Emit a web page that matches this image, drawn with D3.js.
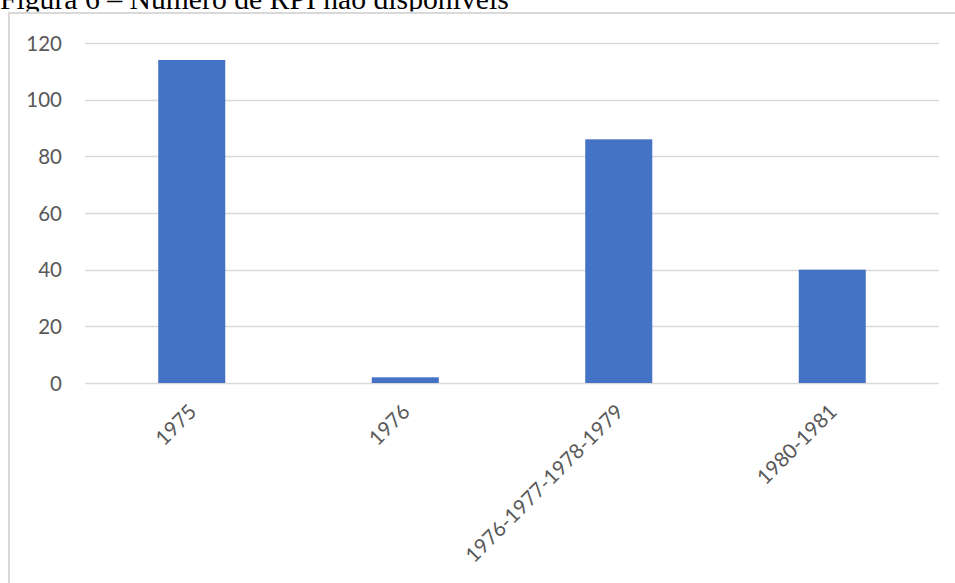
<!DOCTYPE html>
<html>
<head>
<meta charset="utf-8">
<script src="https://cdn.jsdelivr.net/npm/d3@7"></script>
<style>
  html, body { margin: 0; padding: 0; background: #fff; }
  svg { display: block; }
</style>
</head>
<body>
<svg id="chart" width="955" height="583"></svg>
<script>
// Número de RPI não disponíveis, por período
const categories = ["1975", "1976", "1976-1977-1978-1979", "1980-1981"];
const values = [114, 2, 86, 40];
const yTicks = [0, 20, 40, 60, 80, 100, 120];
const title = "Figura 6 – Número de RPI não disponíveis";

const svg = d3.select("#chart");
const W = 955, H = 583;
const margin = { left: 85, right: 16, top: 43, bottom: 200 };

// Caption above the frame; its lower part is hidden behind the chart frame
svg.append("defs").append("clipPath").attr("id", "capClip")
  .append("rect").attr("x", 0).attr("y", -40).attr("width", W).attr("height", 51.5);
svg.append("text")
  .attr("x", 0).attr("y", 8.5)
  .attr("clip-path", "url(#capClip)")
  .attr("font-family", "'Liberation Serif', 'Times New Roman', serif")
  .attr("font-size", 29.7)
  .attr("fill", "#000")
  .text(title);

// Frame of the chart area (top and left edges)
svg.append("line")
  .attr("x1", 9).attr("x2", W).attr("y1", 13).attr("y2", 13)
  .attr("stroke", "#d9d9d9").attr("stroke-width", 2);
svg.append("line")
  .attr("x1", 9).attr("x2", 9).attr("y1", 12).attr("y2", H)
  .attr("stroke", "#d9d9d9").attr("stroke-width", 2);

const x = d3.scaleBand()
  .domain(categories)
  .range([margin.left, W - margin.right])
  .paddingInner(0.686)
  .paddingOuter(0.343);

const y = d3.scaleLinear()
  .domain([0, 120])
  .range([383, margin.top]);

// Horizontal gridlines
svg.append("g")
  .selectAll("line")
  .data(yTicks)
  .join("line")
  .attr("x1", margin.left).attr("x2", W - margin.right)
  .attr("y1", d => Math.round(y(d)) + 0.5).attr("y2", d => Math.round(y(d)) + 0.5)
  .attr("stroke", "#d9d9d9").attr("stroke-width", 1.5);

// Y axis labels
const yAxis = d3.axisLeft(y).tickValues(yTicks).tickSize(0).tickPadding(0);
const gy = svg.append("g")
  .attr("transform", `translate(62,0)`)
  .call(yAxis);
gy.select(".domain").remove();
gy.selectAll("text")
  .attr("font-family", "Lato, 'Open Sans', sans-serif")
  .attr("font-size", 20.5)
  .attr("fill", "#595959")
  .attr("dy", "0.35em");

// Bars
svg.append("g")
  .selectAll("rect")
  .data(values)
  .join("rect")
  .attr("x", (d, i) => x(categories[i]))
  .attr("width", x.bandwidth())
  .attr("y", d => y(d))
  .attr("height", d => y(0) - y(d))
  .attr("fill", "#4472c4");

// X axis labels, rotated
const xAxis = d3.axisBottom(x).tickSize(0).tickPadding(0);
const gx = svg.append("g")
  .attr("transform", `translate(0,${y(0)})`)
  .call(xAxis);
gx.select(".domain").remove();
gx.selectAll("text")
  .attr("font-family", "Lato, 'Open Sans', sans-serif")
  .attr("font-size", 20.5)
  .attr("fill", "#595959")
  .attr("text-anchor", "end")
  .attr("dy", null)
  .attr("y", 0)
  .attr("transform", "translate(6,30) rotate(-45)");
</script>
</body>
</html>
